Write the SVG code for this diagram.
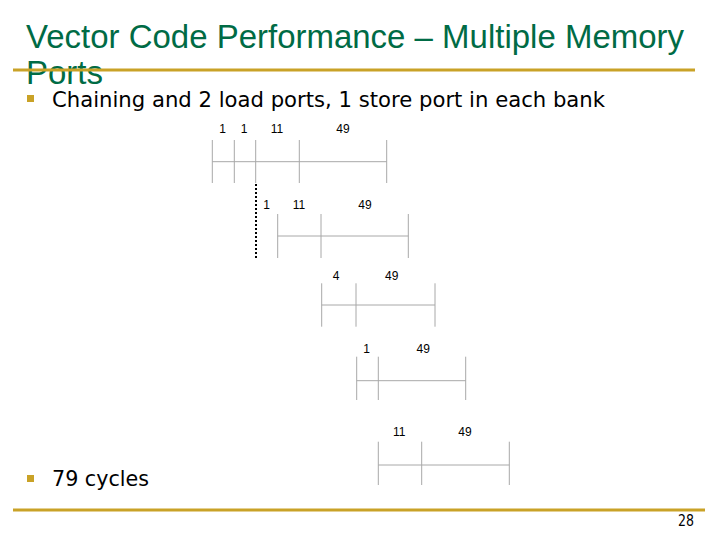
<svg xmlns="http://www.w3.org/2000/svg" width="720" height="540" viewBox="0 0 720 540">
<style>
.title{font-family:"Liberation Sans",Arial,sans-serif;font-size:33px;fill:#006B45}
.body{font-family:"DejaVu Sans",sans-serif;font-size:22px;fill:#000}
.lbl{font-family:"Liberation Sans",Arial,sans-serif;font-size:12px;fill:#000;text-anchor:middle}
.t{stroke:#a8a8a8;stroke-width:1;fill:none}
.rule{stroke:#C9A227;stroke-width:3}
.bul{fill:#C9A227}
</style>
<rect width="720" height="540" fill="#fff"/>
<text class="title" x="26" y="48" textLength="658" lengthAdjust="spacingAndGlyphs">Vector Code Performance – Multiple Memory</text>
<text class="title" x="26" y="84">Ports</text>
<line class="rule" x1="13" y1="70" x2="695" y2="70"/>
<rect class="bul" x="27" y="95" width="7" height="7"/>
<text class="body" x="52" y="107" textLength="553" lengthAdjust="spacingAndGlyphs">Chaining and 2 load ports, 1 store port in each bank</text>
<rect class="bul" x="27" y="475" width="7" height="7"/>
<text class="body" x="52" y="486" textLength="97" lengthAdjust="spacingAndGlyphs">79 cycles</text>
<line class="rule" x1="13" y1="510" x2="705" y2="510"/>
<text x="694" y="526" text-anchor="end" textLength="16" lengthAdjust="spacingAndGlyphs" style="font-family:'DejaVu Sans',sans-serif;font-size:15px;fill:#000">28</text>
<g id="connectors">
<line x1="256" y1="184" x2="256" y2="258" stroke="#000" stroke-width="2" stroke-dasharray="2,2"/>
</g>
<g id="row1">
<path class="t" d="M212.3 140V183M234.3 140V183M255.7 140V183M299.3 140V183M386.7 140V183M212.3 161.7H386.7"/>
<text class="lbl" x="222.7" y="133">1</text>
<text class="lbl" x="244" y="133">1</text>
<text class="lbl" x="277" y="133">11</text>
<text class="lbl" x="343" y="133">49</text>
</g>
<g id="row2">
<path class="t" d="M277.7 214V258M321 214V258M408.3 214V258M277.7 236H408.3"/>
<text class="lbl" x="266.7" y="209">1</text>
<text class="lbl" x="299" y="209">11</text>
<text class="lbl" x="365" y="209">49</text>
</g>
<g id="row3">
<path class="t" d="M321.7 283.3V326.7M356 283.3V326.7M435 283.3V326.7M321.7 305H435"/>
<text class="lbl" x="336" y="280">4</text>
<text class="lbl" x="391.7" y="280">49</text>
</g>
<g id="row4">
<path class="t" d="M356.7 356.7V400M378.3 356.7V400M465.7 356.7V400M356.7 380.7H465.7"/>
<text class="lbl" x="366.7" y="352.7">1</text>
<text class="lbl" x="423.3" y="352.7">49</text>
</g>
<g id="row5">
<path class="t" d="M378.3 441.7V485M421.7 441.7V485M509.3 441.7V485M378.3 465H509.3"/>
<text class="lbl" x="399.3" y="436">11</text>
<text class="lbl" x="465" y="436">49</text>
</g>
</svg>
